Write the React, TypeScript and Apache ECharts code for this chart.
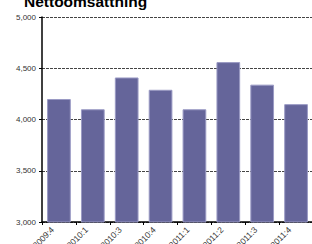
import React, { useEffect, useRef } from "react";
import * as echarts from "echarts";

const categories = ["2009:4", "2010:1", "2010:3", "2010:4", "2011:1", "2011:2", "2011:3", "2011:4"];
const values = [4200, 4100, 4410, 4290, 4100, 4560, 4340, 4150];
const titleText = "Nettoomsättning";

export default function App() {
  const ref = useRef<HTMLDivElement>(null);
  useEffect(() => {
    const chart = echarts.init(ref.current!, null, { renderer: "svg" });
    chart.setOption({
      animation: false,
      backgroundColor: "#ffffff",
      title: {
        text: titleText,
        left: 19,
        top: -12,
        textStyle: { fontFamily: "Liberation Sans, Arial", fontWeight: "bold", fontSize: 15.5, color: "#000" },
      },
      grid: { left: 42, right: -1, top: 17, bottom: 22, containLabel: false, outerBoundsMode: "none" },
      xAxis: {
        type: "category",
        data: categories,
        axisLine: { lineStyle: { color: "#000", width: 1.5 } },
        axisTick: { show: true, alignWithLabel: false, length: 3, lineStyle: { color: "#000" } },
        axisLabel: {
          interval: 0,
          rotate: 45,
          fontSize: 8.5,
          margin: 0,
          padding: [0, 9, 0, 0],
          color: "#333",
          fontFamily: "Liberation Sans, Arial",
        },
      },
      yAxis: {
        type: "value",
        min: 3000,
        max: 5000,
        interval: 500,
        axisLine: { show: true, lineStyle: { color: "#000", width: 1.5 } },
        axisTick: { show: true, length: 3, lineStyle: { color: "#000" } },
        axisLabel: {
          fontSize: 8,
          margin: 6,
          color: "#333",
          fontFamily: "Liberation Sans, Arial",
          formatter: (v: number) => v.toLocaleString("en-US"),
        },
        splitLine: { show: true, lineStyle: { color: "#444", type: [3, 1], width: 1 } },
      },
      series: [
        {
          type: "bar",
          data: values,
          barWidth: "70%",
          itemStyle: { color: "#65659a", borderColor: "#9a9ac4", borderWidth: 1 },
        },
      ],
    });
    return () => chart.dispose();
  }, []);
  return <div ref={ref} style={{ position: "fixed", left: 0, top: 0, width: 312, height: 244 }} />;
}
